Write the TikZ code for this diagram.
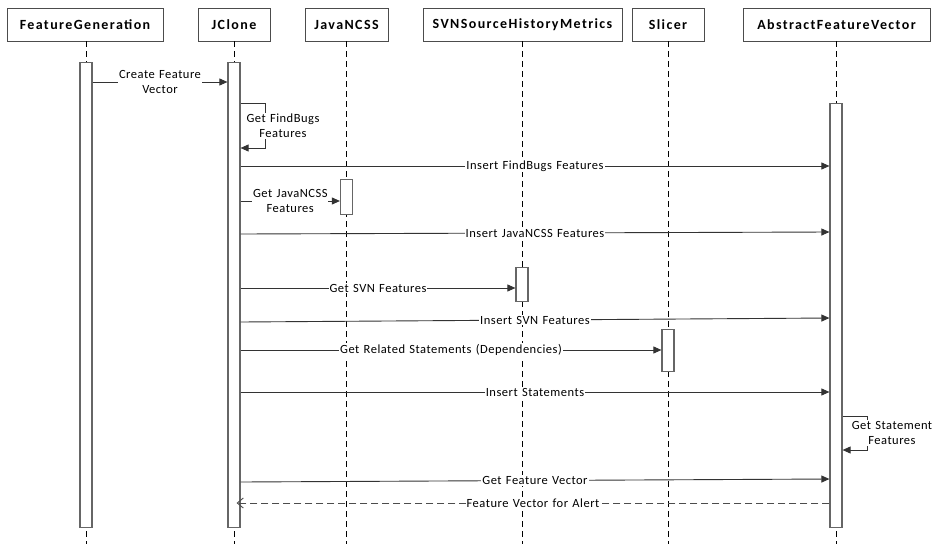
\documentclass[tikz,border=0pt]{standalone}
\usepackage{fontspec}
\setmainfont{Carlito}
\newfontfamily\hdrfont[LetterSpace=10]{Carlito}
\newfontfamily\msgfont[LetterSpace=4,WordSpace=1.3]{Carlito}
\usetikzlibrary{arrows.meta}
\begin{document}
\begin{tikzpicture}[x=1pt,y=-1pt,
 hdr/.style={draw=black!70, line width=0.9pt, minimum height=33pt, inner sep=0pt, font=\hdrfont\fontsize{14}{16}\selectfont\bfseries, fill=white},
 act/.style={draw=black!60, line width=1.2pt, fill=white, minimum width=12pt, inner sep=0pt, anchor=north},
 life/.style={draw=black, line width=0.8pt, dash pattern=on 6pt off 4pt},
 msg/.style={draw=black!80, line width=0.9pt, -{Triangle[length=8pt,width=7pt]}},
 ret/.style={draw=black!70, line width=0.9pt, dash pattern=on 7pt off 4pt, -{Straight Barb[length=6pt,width=10pt]}},
 lbl/.style={fill=white, inner sep=1pt, font=\msgfont\fontsize{12.5}{15}\selectfont, align=center},
]
\useasboundingbox (0,0) rectangle (937,544);
% headers
\node[hdr, minimum width=156pt] (fg) at (85,24.5) {FeatureGeneration};
\node[hdr, minimum width=72pt] (jc) at (234,24.5) {JClone};
\node[hdr, minimum width=83pt] (jn) at (346.5,24.5) {JavaNCSS};
\node[hdr, minimum width=199pt] (svn) at (522.5,24.5) {SVNSourceHistoryMetrics};
\node[hdr, minimum width=72pt] (sl) at (668,24.5) {Slicer};
\node[hdr, minimum width=187pt] (af) at (836.5,24.5) {AbstractFeatureVector};
% lifelines
\coordinate (fgE) at (86,544);
\coordinate (jcE) at (234,544);
\coordinate (jnE) at (346,544);
\coordinate (svnE) at (522,544);
\coordinate (slE) at (668,544);
\coordinate (afE) at (836,544);
\draw[life] (fg.south -| fgE) -- (fgE);
\draw[life] (jc.south -| jcE) -- (jcE);
\draw[life] (jn.south -| jnE) -- (jnE);
\draw[life] (svn.south -| svnE) -- (svnE);
\draw[life] (sl.south -| slE) -- (slE);
\draw[life] (af.south -| afE) -- (afE);
% activations
\node[act, minimum height=465pt] (fgA) at (86,62) {};
\node[act, minimum height=465pt] (jcA) at (234,62) {};
\node[act, minimum height=424pt] (afA) at (836,103) {};
\node[act, minimum height=35pt] (jnA) at (346.5,179) {};
\node[act, minimum height=34pt] (svnA) at (522,267) {};
\node[act, minimum height=42pt] (slA) at (668,329) {};
% messages
\draw[msg] (fgA.east |- 0,82) -- node[lbl] {Create Feature\\Vector} (jcA.west |- 0,82);
\draw[msg] (jcA.east |- 0,103) -- ++(25,0) -- ++(0,45) -- (jcA.east |- 0,148);
\node[lbl] (l2) at (283,126) {Get FindBugs\\Features};
\draw[msg] (jcA.east |- 0,166) -- node[lbl] {Insert FindBugs Features} (afA.west |- 0,166);
\draw[msg] (jcA.east |- 0,201) -- node[lbl, pos=0.5] {Get JavaNCSS\\Features} (jnA.west |- 0,201);
\draw[msg] (jcA.east |- 0,234) -- node[lbl] {Insert JavaNCSS Features} (afA.west |- 0,232);
\draw[msg] (jcA.east |- 0,288) -- node[lbl] {Get SVN Features} (svnA.west |- 0,288);
\draw[msg] (jcA.east |- 0,322) -- node[lbl] {Insert SVN Features} (afA.west |- 0,318);
\draw[msg] (jcA.east |- 0,350) -- node[lbl] {Get Related Statements (Dependencies)} (slA.west |- 0,350);
\draw[msg] (jcA.east |- 0,392) -- node[lbl] {Insert Statements} (afA.west |- 0,392);
\draw[msg] (afA.east |- 0,416) -- ++(25,0) -- ++(0,34) -- (afA.east |- 0,450);
\node[lbl] (l10) at (892,433) {Get Statement\\Features};
\draw[msg] (jcA.east |- 0,482) -- node[lbl] {Get Feature Vector} (afA.west |- 0,479);
\draw[ret] (afA.west |- 0,503) -- node[lbl] {Feature Vector for Alert} ([xshift=-4pt]jcA.east |- 0,503);
\end{tikzpicture}
\end{document}
